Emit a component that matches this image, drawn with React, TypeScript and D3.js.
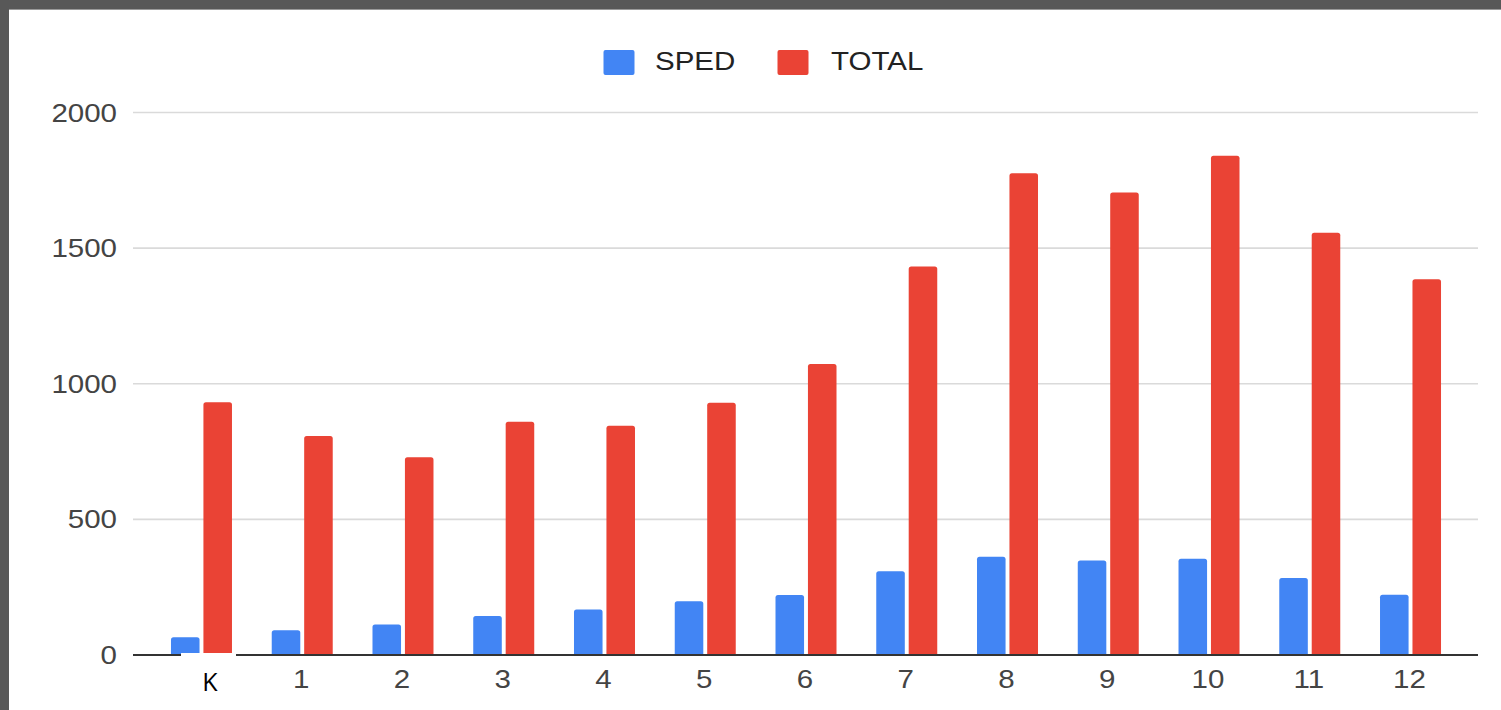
import React from "react";
import * as d3 from "d3";

const categories = ["K", "1", "2", "3", "4", "5", "6", "7", "8", "9", "10", "11", "12"];
const series = ["SPED", "TOTAL"];
const spedValues = [65, 91, 112, 144, 168, 198, 221, 309, 362, 348, 355, 284, 222];
const totalValues = [932, 807, 729, 860, 845, 930, 1073, 1432, 1776, 1705, 1841, 1557, 1385];
const yTicks = [0, 500, 1000, 1500, 2000];
const colors = ["#4285f4", "#ea4335"];

const W = 1501;
const H = 710;
const FONT = "'Liberation Sans', Arial, sans-serif";
const SX = 1.18;

function topRoundedRect(x: number, y: number, w: number, h: number, r: number) {
  const rr = Math.min(r, w / 2, h);
  return `M${x},${y + h}V${y + rr}Q${x},${y} ${x + rr},${y}H${x + w - rr}Q${x + w},${y} ${x + w},${y + rr}V${y + h}Z`;
}

export default function App() {
  const x0 = d3.scaleBand<string>().domain(categories).range([151.1, 1460.9]).padding(0);
  const x1 = d3.scaleBand<string>().domain(series).range([-30.5, 30.5]).paddingInner(0.12);
  const y = d3.scaleLinear().domain([0, 2000]).range([655, 112.5]);
  const data = [spedValues, totalValues];

  return (
    <div style={{ position: "absolute", left: 0, top: 0 }}>
      <svg width={W} height={H} style={{ display: "block" }}>
        <rect x={0} y={0} width={W} height={H} fill="#585858" />
        <rect x={9} y={9} width={W - 9} height={H - 9} fill="#ffffff" />
        <line x1={9} x2={W} y1={9.5} y2={9.5} stroke="#9a9a9a" strokeWidth={1} />

        {yTicks.filter((t) => t !== 0).map((t) => (
          <line key={t} x1={133} x2={1478} y1={y(t)} y2={y(t)} stroke="#dadada" strokeWidth={1.6} />
        ))}

        {yTicks.map((t) => (
          <text
            key={"yl" + t}
            transform={`translate(117,${y(t) + 9}) scale(${SX},1)`}
            textAnchor="end"
            fontFamily={FONT}
            fontSize={25}
            fill="#444"
          >
            {t}
          </text>
        ))}

        {categories.map((c, i) => {
          const cx = (x0(c) as number) + x0.bandwidth() / 2;
          return series.map((s, j) => {
            const v = data[j][i];
            const bx = cx + (x1(s) as number);
            const by = y(v);
            return (
              <path
                key={c + s}
                d={topRoundedRect(bx, by, x1.bandwidth(), y(0) - by, 2.5)}
                fill={colors[j]}
              />
            );
          });
        })}

        <line x1={133} x2={1478} y1={655} y2={655} stroke="#333" strokeWidth={2} />

        {categories.map((c) => {
          const cx = (x0(c) as number) + x0.bandwidth() / 2;
          if (c === "K") return null;
          return (
            <text
              key={"xl" + c}
              transform={`translate(${cx - 1},688) scale(${SX},1)`}
              textAnchor="middle"
              fontFamily={FONT}
              fontSize={25}
              fill="#444"
            >
              {c}
            </text>
          );
        })}

        <rect x={181} y={653} width={55} height={45} fill="#ffffff" />
        <text x={210} y={691} textAnchor="middle" fontFamily="'Open Sans', 'DejaVu Sans', sans-serif" fontSize={25} fill="#000">
          {categories[0]}
        </text>

        <rect x={603.5} y={50} width={31} height={25} rx={2} fill={colors[0]} />
        <text transform={`translate(655,70) scale(${SX},1)`} fontFamily={FONT} fontSize={25} fill="#222">
          {series[0]}
        </text>
        <rect x={777.5} y={50} width={31} height={25} rx={2} fill={colors[1]} />
        <text transform={`translate(831,70) scale(${SX},1)`} fontFamily={FONT} fontSize={25} fill="#222">
          {series[1]}
        </text>
      </svg>
    </div>
  );
}
